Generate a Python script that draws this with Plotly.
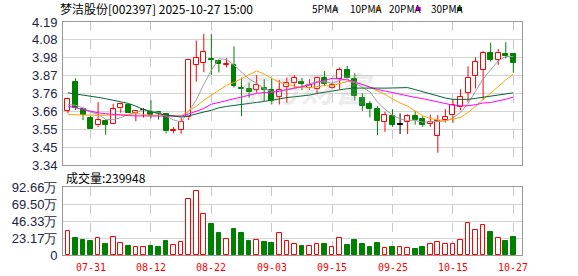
import plotly.graph_objects as go
import pandas as pd

# ---------------- data ----------------
dates = ["07-28", "07-29", "07-30", "07-31", "08-01", "08-04", "08-05", "08-06", "08-07", "08-08",
         "08-11", "08-12", "08-13", "08-14", "08-15", "08-18", "08-19", "08-20", "08-21", "08-22",
         "08-25", "08-26", "08-27", "08-28", "08-29", "09-01", "09-02", "09-03", "09-04", "09-05",
         "09-08", "09-09", "09-10", "09-11", "09-12", "09-15", "09-16", "09-17", "09-18", "09-19",
         "09-22", "09-23", "09-24", "09-25", "09-26", "09-29", "09-30", "10-09", "10-10", "10-13",
         "10-14", "10-15", "10-16", "10-17", "10-20", "10-21", "10-22", "10-23", "10-24", "10-27"]

opens = [3.662, 3.834, 3.670, 3.617, 3.575, 3.600, 3.581, 3.676, 3.694, 3.652,
         3.666, 3.658, 3.658, 3.641, 3.545, 3.550, 3.623, 3.935, 3.947, 3.970,
         3.960, 3.935, 3.933, 3.800, 3.790, 3.787, 3.800, 3.785, 3.745, 3.805,
         3.825, 3.832, 3.795, 3.790, 3.855, 3.795, 3.850, 3.904, 3.854, 3.741,
         3.702, 3.672, 3.595, 3.631, 3.579, 3.595, 3.631, 3.615, 3.584, 3.512,
         3.607, 3.635, 3.682, 3.767, 3.868, 3.904, 4.008, 3.967, 3.998, 3.998]
highs = [3.741, 3.856, 3.680, 3.630, 3.714, 3.610, 3.704, 3.706, 3.700, 3.666,
         3.678, 3.725, 3.662, 3.647, 3.565, 3.620, 3.967, 4.080, 4.120, 4.120,
         3.965, 3.975, 4.046, 3.860, 3.830, 3.874, 3.850, 3.855, 3.845, 3.860,
         3.874, 3.858, 3.850, 3.865, 3.898, 3.830, 3.920, 3.930, 3.885, 3.765,
         3.720, 3.690, 3.656, 3.672, 3.647, 3.641, 3.660, 3.630, 3.640, 3.637,
         3.672, 3.730, 3.790, 3.927, 3.980, 4.017, 4.067, 4.030, 4.070, 4.002]
lows = [3.647, 3.666, 3.607, 3.552, 3.565, 3.520, 3.580, 3.650, 3.648, 3.600,
        3.623, 3.617, 3.610, 3.528, 3.528, 3.525, 3.607, 3.835, 3.893, 3.875,
        3.890, 3.920, 3.800, 3.630, 3.740, 3.770, 3.720, 3.700, 3.700, 3.710,
        3.795, 3.785, 3.787, 3.760, 3.810, 3.790, 3.790, 3.855, 3.723, 3.662,
        3.623, 3.518, 3.537, 3.567, 3.524, 3.524, 3.580, 3.567, 3.567, 3.413,
        3.593, 3.590, 3.666, 3.715, 3.795, 3.728, 3.955, 3.935, 3.973, 3.888]
closes = [3.731, 3.680, 3.640, 3.552, 3.605, 3.580, 3.670, 3.700, 3.650, 3.660,
          3.666, 3.635, 3.650, 3.540, 3.550, 3.597, 3.967, 3.975, 4.012, 3.965,
          3.940, 3.943, 3.810, 3.790, 3.772, 3.814, 3.788, 3.720, 3.787, 3.830,
          3.858, 3.822, 3.817, 3.855, 3.822, 3.814, 3.904, 3.856, 3.751, 3.692,
          3.672, 3.601, 3.637, 3.580, 3.579, 3.629, 3.605, 3.580, 3.594, 3.600,
          3.627, 3.696, 3.745, 3.859, 3.953, 4.008, 3.967, 4.008, 3.990, 3.948]

# volume in 万 (10000 shares)
volumes_wan = [32.9, 23.7, 20.5, 19.2, 23.3, 15.1, 24.7, 16.0, 12.3, 11.0,
               11.0, 12.3, 11.0, 19.2, 13.7, 17.3, 76.7, 87.6, 56.2, 42.5,
               30.1, 21.9, 35.6, 30.1, 19.2, 20.5, 17.8, 16.4, 29.7, 19.2,
               15.1, 12.3, 12.3, 15.1, 15.1, 11.0, 23.3, 13.7, 20.5, 15.1,
               11.0, 16.4, 9.6, 11.0, 11.0, 9.6, 8.2, 11.0, 15.1, 17.8,
               15.1, 15.1, 20.5, 43.8, 34.2, 41.1, 31.5, 23.3, 19.2, 23.9948]
last_volume = 239948

# moving-average values before enough visible history exists
ma5_lead = [3.700, 3.695, 3.680, 3.655]
ma10_lead = [3.640, 3.640, 3.638, 3.636, 3.635, 3.635, 3.636, 3.638, 3.640]
ma20_lead = [3.690, 3.680, 3.668, 3.657, 3.650, 3.645, 3.640, 3.636, 3.634, 3.632,
             3.631, 3.630, 3.630, 3.629, 3.628, 3.630, 3.643, 3.660, 3.676]
ma30_lead = [3.769, 3.763, 3.757, 3.750, 3.742, 3.734, 3.726, 3.716, 3.706, 3.690,
             3.670, 3.658, 3.645, 3.637, 3.630, 3.625, 3.632, 3.645, 3.655, 3.665,
             3.680, 3.688, 3.695, 3.700, 3.706, 3.712, 3.718, 3.724, 3.733]

tick_dates = ["07-31", "08-12", "08-22", "09-03", "09-15", "09-25", "10-15", "10-27"]
price_ticks = ["3.34", "3.45", "3.55", "3.66", "3.76", "3.87", "3.98", "4.08", "4.19"]
price_min, price_max = 3.34, 4.19
vol_max = 926600
vol_ticks = ["0", "23.17万", "46.33万", "69.50万", "92.66万"]
title_text = "梦洁股份[002397] 2025-10-27 15:00"
legend_names = ["5PMA", "10PMA", "20PMA", "30PMA"]

# ---------------- derived ----------------
n = len(dates)
xs = list(range(n))
volumes = [v * 10000 for v in volumes_wan]
cl = pd.Series(closes)


def ma(win, lead):
    s = cl.rolling(win).mean().tolist()
    return lead + s[len(lead):]


ma5 = ma(5, ma5_lead)
ma10 = ma(10, ma10_lead)
ma20 = ma(20, ma20_lead)
ma30 = ma(30, ma30_lead)

RED = "#ff0000"
GREEN = "#008000"
BLACK = "#000000"
MA_COLORS = ["#a0a0a0", "#ffa500", "#ff00ff", "#006633"]
TEXT = "#1c2442"

kind = []
for i in range(n):
    if closes[i] > opens[i]:
        kind.append("up")
    elif closes[i] < opens[i]:
        kind.append("down")
    else:
        kind.append("flat")

fig = go.Figure()

# wicks
for k, col in (("up", RED), ("down", GREEN), ("flat", BLACK)):
    wx, wy = [], []
    for i in range(n):
        if kind[i] != k:
            continue
        top = max(opens[i], closes[i])
        bot = min(opens[i], closes[i])
        wx += [xs[i], xs[i], None, xs[i], xs[i], None]
        wy += [highs[i], top, None, bot, lows[i], None]
    fig.add_trace(go.Scatter(x=wx, y=wy, mode="lines", line=dict(color=col, width=1),
                             hoverinfo="skip", xaxis="x", yaxis="y"))

# bodies
for k, fill, col in (("up", "#ffffff", RED), ("down", GREEN, GREEN), ("flat", BLACK, BLACK)):
    bx, bb, bh = [], [], []
    for i in range(n):
        if kind[i] != k:
            continue
        bx.append(xs[i])
        bb.append(min(opens[i], closes[i]))
        bh.append(max(abs(closes[i] - opens[i]), 0.0025))
    fig.add_trace(go.Bar(x=bx, y=bh, base=bb, width=0.66,
                         marker=dict(color=fill, line=dict(color=col, width=1)),
                         hoverinfo="skip", xaxis="x", yaxis="y"))

# moving averages
for vals, col in zip((ma5, ma10, ma20, ma30), MA_COLORS):
    fig.add_trace(go.Scatter(x=xs, y=vals, mode="lines", line=dict(color=col, width=1),
                             hoverinfo="skip", xaxis="x", yaxis="y"))

# volume
vol_up = [True if kind[i] == "flat" else kind[i] == "up" for i in range(n)]
for up, fill, col in ((True, "#ffffff", RED), (False, GREEN, GREEN)):
    vx = [xs[i] for i in range(n) if vol_up[i] == up]
    vy = [volumes[i] for i in range(n) if vol_up[i] == up]
    fig.add_trace(go.Bar(x=vx, y=vy, width=0.62,
                         marker=dict(color=fill, line=dict(color=col, width=1)),
                         hoverinfo="skip", xaxis="x2", yaxis="y2"))

# ---------------- layout ----------------
W, H = 578, 276
ML, MR, MT, MB = 55, 56, 22, 21
PW, PH = W - ML - MR, H - MT - MB


def px2x(px):
    return (px - ML) / PW


def py2y(py):
    return 1 - (py - MT) / PH


price_dom = [py2y(165), 1]
vol_dom = [0, py2y(187)]

tickpos = [dates.index(d) for d in tick_dates]
xr = [-0.65, 60.15]
price_vals = [price_min + k * (price_max - price_min) / 8 for k in range(9)]
vol_vals = [k * vol_max / 4 for k in range(5)]

xcommon = dict(range=xr, tickmode="array", tickvals=tickpos, showticklabels=False,
               showgrid=True, gridcolor="#c8c8c8", griddash="dash", gridwidth=1,
               showline=True, mirror=True, linecolor="#999999", linewidth=1,
               zeroline=False, ticks="", fixedrange=True)

fig.update_layout(
    width=W, height=H,
    margin=dict(l=ML, r=MR, t=MT, b=MB, pad=0),
    paper_bgcolor="#ffffff", plot_bgcolor="#ffffff",
    showlegend=False, barmode="overlay", bargap=0,
    font=dict(family="Liberation Sans, Arial", size=13, color=TEXT),
    xaxis=dict(domain=[0, 1], anchor="y", **xcommon),
    xaxis2=dict(domain=[0, 1], anchor="y2", **xcommon),
    yaxis=dict(domain=price_dom, anchor="x", range=[price_min, price_max], tickvals=price_vals,
               ticktext=price_ticks, showgrid=True, gridcolor="#d4d4d4", gridwidth=1,
               showline=True, mirror=True, linecolor="#999999", zeroline=False, ticks="",
               tickfont=dict(size=13, color=TEXT), ticklabelstandoff=2, fixedrange=True),
    yaxis2=dict(domain=vol_dom, anchor="x2", range=[0, vol_max], tickvals=vol_vals,
                ticktext=vol_ticks, showgrid=True, gridcolor="#d4d4d4", gridwidth=1,
                showline=True, mirror=True, linecolor="#999999", zeroline=False, ticks="",
                tickfont=dict(size=13, color=TEXT), ticklabelstandoff=2, fixedrange=True),
)

ann = []
# red date labels under the volume pane
for pos, lab in zip(tickpos, tick_dates):
    ann.append(dict(xref="x2", yref="paper", x=pos, y=py2y(267), xanchor="center",
                    yanchor="middle", text='<span style="color:#ff0000">' + lab + "</span>",
                    showarrow=False,
                    font=dict(family="DejaVu Sans Mono, Liberation Mono", size=10, color="red")))
ann.append(dict(xref="paper", yref="paper", x=px2x(50), y=py2y(9), xanchor="left", yanchor="middle",
                text=title_text, showarrow=False,
                font=dict(family="Noto Sans CJK SC", size=12, color="#000000")))
leg_text_x = [306, 345, 385, 427]
leg_sq_x = [330, 373, 414, 456]
for name, tx, sx, col in zip(legend_names, leg_text_x, leg_sq_x, MA_COLORS):
    ann.append(dict(xref="paper", yref="paper", x=px2x(tx), y=py2y(9), xanchor="left",
                    yanchor="middle", text=name, showarrow=False,
                    font=dict(family="Noto Sans CJK SC", size=10, color="#000000")))
    fig.add_shape(type="rect", xref="paper", yref="paper", x0=px2x(sx), x1=px2x(sx + 5),
                  y0=py2y(11), y1=py2y(7), fillcolor=col, line=dict(width=0))
ann.append(dict(xref="paper", yref="paper", x=px2x(56), y=py2y(177), xanchor="left",
                yanchor="middle", text="成交量:" + str(last_volume), showarrow=False,
                font=dict(family="Noto Sans CJK SC", size=12, color="#000000")))
ann.append(dict(xref="paper", yref="paper", x=px2x(300), y=py2y(88), xanchor="center",
                yanchor="middle", text="<b><i>东方财富</i></b>", showarrow=False,
                font=dict(family="Noto Sans CJK SC", size=34, color="rgba(170,170,170,0.22)")))
fig.update_layout(annotations=ann)

fig.write_html("out.html", config={"displayModeBar": False})
